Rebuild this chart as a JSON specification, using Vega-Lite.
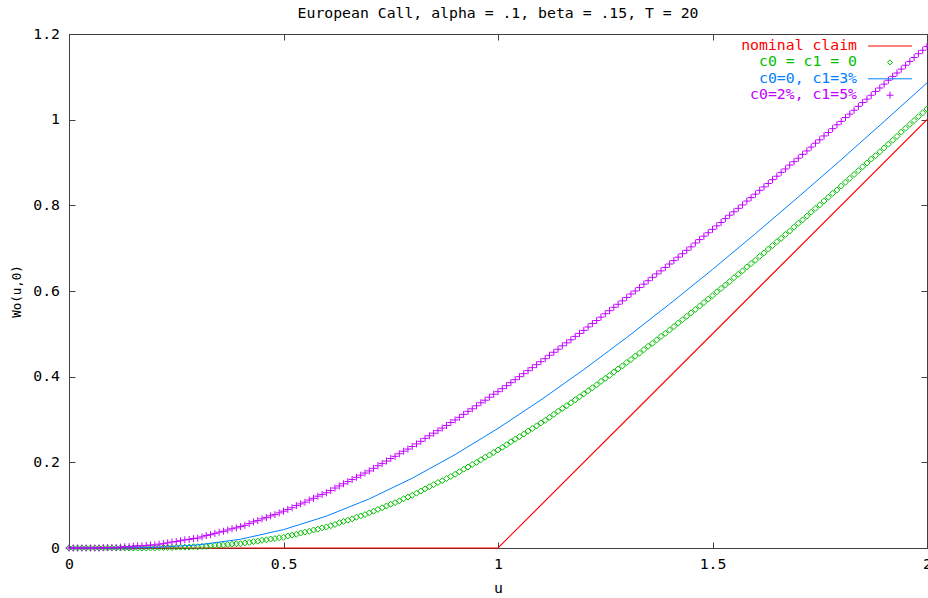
{
  "$schema": "https://vega.github.io/schema/vega-lite/v6.json",
  "width": 858,
  "height": 514,
  "autosize": {"type": "none"},
  "padding": {"left": 69, "top": 34, "right": 1, "bottom": 50},
  "background": "#ffffff",
  "title": {"text": "European Call, alpha = .1, beta = .15, T = 20", "font": "DejaVu Sans Mono", "fontSize": 14.8, "fontWeight": "normal", "color": "#000000", "anchor": "middle", "frame": "group", "baseline": "alphabetic", "offset": -6.5},
  "config": {
    "font": "DejaVu Sans Mono",
    "view": {"stroke": null},
    "axis": {"grid": false, "domainColor": "#404040", "tickColor": "#404040", "labelColor": "#000000", "titleColor": "#000000", "labelFont": "DejaVu Sans Mono", "titleFont": "DejaVu Sans Mono", "labelFontSize": 14.8, "titleFontSize": 14.8, "titleFontWeight": "normal", "labelFlush": false, "labelOverlap": false, "labelBound": false, "tickSize": -6}
  },
  "datasets": {
    "red": [{"u": 0, "v": 0}, {"u": 1, "v": 0}, {"u": 2, "v": 1}],
    "blue": [{"u":0,"v":0},{"u":0.1,"v":0},{"u":0.2,"v":0.0013},{"u":0.3,"v":0.0071},{"u":0.4,"v":0.0205},{"u":0.5,"v":0.0429},{"u":0.6,"v":0.0744},{"u":0.7,"v":0.1147},{"u":0.8,"v":0.1629},{"u":0.9,"v":0.2181},{"u":1,"v":0.2792},{"u":1.1,"v":0.3457},{"u":1.2,"v":0.4166},{"u":1.3,"v":0.4914},{"u":1.4,"v":0.5695},{"u":1.5,"v":0.6503},{"u":1.6,"v":0.7339},{"u":1.7,"v":0.8194},{"u":1.8,"v":0.9066},{"u":1.9,"v":0.9957},{"u":2,"v":1.0858}],
    "green": [{"u":0,"v":0},{"u":0.01,"v":0},{"u":0.02,"v":0},{"u":0.03,"v":0},{"u":0.04,"v":0},{"u":0.05,"v":0},{"u":0.06,"v":0},{"u":0.07,"v":0},{"u":0.08,"v":0},{"u":0.09,"v":0},{"u":0.1,"v":0},{"u":0.11,"v":0},{"u":0.12,"v":0},{"u":0.13,"v":0},{"u":0.14,"v":0},{"u":0.15,"v":0},{"u":0.16,"v":0},{"u":0.17,"v":0},{"u":0.18,"v":0},{"u":0.19,"v":0},{"u":0.2,"v":0},{"u":0.21,"v":0.001},{"u":0.22,"v":0.001},{"u":0.23,"v":0.001},{"u":0.24,"v":0.001},{"u":0.25,"v":0.002},{"u":0.26,"v":0.002},{"u":0.27,"v":0.002},{"u":0.28,"v":0.002},{"u":0.29,"v":0.003},{"u":0.3,"v":0.003},{"u":0.31,"v":0.004},{"u":0.32,"v":0.004},{"u":0.33,"v":0.005},{"u":0.34,"v":0.006},{"u":0.35,"v":0.007},{"u":0.36,"v":0.007},{"u":0.37,"v":0.008},{"u":0.38,"v":0.009},{"u":0.39,"v":0.01},{"u":0.4,"v":0.01},{"u":0.41,"v":0.012},{"u":0.42,"v":0.013},{"u":0.43,"v":0.015},{"u":0.44,"v":0.016},{"u":0.45,"v":0.018},{"u":0.46,"v":0.019},{"u":0.47,"v":0.021},{"u":0.48,"v":0.022},{"u":0.49,"v":0.024},{"u":0.5,"v":0.025},{"u":0.51,"v":0.028},{"u":0.52,"v":0.03},{"u":0.53,"v":0.032},{"u":0.54,"v":0.035},{"u":0.55,"v":0.037},{"u":0.56,"v":0.039},{"u":0.57,"v":0.042},{"u":0.58,"v":0.044},{"u":0.59,"v":0.047},{"u":0.6,"v":0.049},{"u":0.61,"v":0.052},{"u":0.62,"v":0.055},{"u":0.63,"v":0.059},{"u":0.64,"v":0.062},{"u":0.65,"v":0.065},{"u":0.66,"v":0.068},{"u":0.67,"v":0.072},{"u":0.68,"v":0.075},{"u":0.69,"v":0.078},{"u":0.7,"v":0.082},{"u":0.71,"v":0.086},{"u":0.72,"v":0.09},{"u":0.73,"v":0.094},{"u":0.74,"v":0.098},{"u":0.75,"v":0.102},{"u":0.76,"v":0.106},{"u":0.77,"v":0.11},{"u":0.78,"v":0.115},{"u":0.79,"v":0.119},{"u":0.8,"v":0.123},{"u":0.81,"v":0.128},{"u":0.82,"v":0.133},{"u":0.83,"v":0.138},{"u":0.84,"v":0.143},{"u":0.85,"v":0.148},{"u":0.86,"v":0.153},{"u":0.87,"v":0.157},{"u":0.88,"v":0.162},{"u":0.89,"v":0.167},{"u":0.9,"v":0.172},{"u":0.91,"v":0.178},{"u":0.92,"v":0.184},{"u":0.93,"v":0.189},{"u":0.94,"v":0.195},{"u":0.95,"v":0.2},{"u":0.96,"v":0.206},{"u":0.97,"v":0.212},{"u":0.98,"v":0.217},{"u":0.99,"v":0.223},{"u":1,"v":0.229},{"u":1.01,"v":0.235},{"u":1.02,"v":0.241},{"u":1.03,"v":0.248},{"u":1.04,"v":0.254},{"u":1.05,"v":0.26},{"u":1.06,"v":0.266},{"u":1.07,"v":0.273},{"u":1.08,"v":0.279},{"u":1.09,"v":0.285},{"u":1.1,"v":0.292},{"u":1.11,"v":0.298},{"u":1.12,"v":0.305},{"u":1.13,"v":0.312},{"u":1.14,"v":0.319},{"u":1.15,"v":0.326},{"u":1.16,"v":0.332},{"u":1.17,"v":0.339},{"u":1.18,"v":0.346},{"u":1.19,"v":0.353},{"u":1.2,"v":0.36},{"u":1.21,"v":0.367},{"u":1.22,"v":0.374},{"u":1.23,"v":0.381},{"u":1.24,"v":0.389},{"u":1.25,"v":0.396},{"u":1.26,"v":0.403},{"u":1.27,"v":0.411},{"u":1.28,"v":0.418},{"u":1.29,"v":0.425},{"u":1.3,"v":0.433},{"u":1.31,"v":0.44},{"u":1.32,"v":0.448},{"u":1.33,"v":0.455},{"u":1.34,"v":0.463},{"u":1.35,"v":0.471},{"u":1.36,"v":0.478},{"u":1.37,"v":0.486},{"u":1.38,"v":0.494},{"u":1.39,"v":0.501},{"u":1.4,"v":0.509},{"u":1.41,"v":0.517},{"u":1.42,"v":0.525},{"u":1.43,"v":0.533},{"u":1.44,"v":0.541},{"u":1.45,"v":0.549},{"u":1.46,"v":0.557},{"u":1.47,"v":0.565},{"u":1.48,"v":0.573},{"u":1.49,"v":0.581},{"u":1.5,"v":0.589},{"u":1.51,"v":0.598},{"u":1.52,"v":0.606},{"u":1.53,"v":0.614},{"u":1.54,"v":0.622},{"u":1.55,"v":0.631},{"u":1.56,"v":0.639},{"u":1.57,"v":0.647},{"u":1.58,"v":0.656},{"u":1.59,"v":0.664},{"u":1.6,"v":0.672},{"u":1.61,"v":0.681},{"u":1.62,"v":0.689},{"u":1.63,"v":0.698},{"u":1.64,"v":0.706},{"u":1.65,"v":0.715},{"u":1.66,"v":0.723},{"u":1.67,"v":0.732},{"u":1.68,"v":0.74},{"u":1.69,"v":0.749},{"u":1.7,"v":0.758},{"u":1.71,"v":0.766},{"u":1.72,"v":0.775},{"u":1.73,"v":0.784},{"u":1.74,"v":0.793},{"u":1.75,"v":0.801},{"u":1.76,"v":0.81},{"u":1.77,"v":0.819},{"u":1.78,"v":0.828},{"u":1.79,"v":0.836},{"u":1.8,"v":0.845},{"u":1.81,"v":0.854},{"u":1.82,"v":0.863},{"u":1.83,"v":0.872},{"u":1.84,"v":0.881},{"u":1.85,"v":0.89},{"u":1.86,"v":0.899},{"u":1.87,"v":0.908},{"u":1.88,"v":0.916},{"u":1.89,"v":0.925},{"u":1.9,"v":0.934},{"u":1.91,"v":0.943},{"u":1.92,"v":0.952},{"u":1.93,"v":0.961},{"u":1.94,"v":0.971},{"u":1.95,"v":0.98},{"u":1.96,"v":0.989},{"u":1.97,"v":0.998},{"u":1.98,"v":1.007},{"u":1.99,"v":1.016},{"u":2,"v":1.025}],
    "purple": [{"u":0,"v":0},{"u":0.01,"v":0},{"u":0.02,"v":0},{"u":0.03,"v":0},{"u":0.04,"v":0},{"u":0.05,"v":0},{"u":0.06,"v":0},{"u":0.07,"v":0},{"u":0.08,"v":0.001},{"u":0.09,"v":0.001},{"u":0.1,"v":0.001},{"u":0.11,"v":0.001},{"u":0.12,"v":0.002},{"u":0.13,"v":0.003},{"u":0.14,"v":0.003},{"u":0.15,"v":0.004},{"u":0.16,"v":0.005},{"u":0.17,"v":0.005},{"u":0.18,"v":0.006},{"u":0.19,"v":0.007},{"u":0.2,"v":0.007},{"u":0.21,"v":0.009},{"u":0.22,"v":0.01},{"u":0.23,"v":0.012},{"u":0.24,"v":0.014},{"u":0.25,"v":0.015},{"u":0.26,"v":0.017},{"u":0.27,"v":0.019},{"u":0.28,"v":0.02},{"u":0.29,"v":0.022},{"u":0.3,"v":0.023},{"u":0.31,"v":0.026},{"u":0.32,"v":0.029},{"u":0.33,"v":0.031},{"u":0.34,"v":0.034},{"u":0.35,"v":0.037},{"u":0.36,"v":0.039},{"u":0.37,"v":0.042},{"u":0.38,"v":0.045},{"u":0.39,"v":0.047},{"u":0.4,"v":0.05},{"u":0.41,"v":0.053},{"u":0.42,"v":0.057},{"u":0.43,"v":0.061},{"u":0.44,"v":0.064},{"u":0.45,"v":0.068},{"u":0.46,"v":0.071},{"u":0.47,"v":0.075},{"u":0.48,"v":0.078},{"u":0.49,"v":0.082},{"u":0.5,"v":0.086},{"u":0.51,"v":0.09},{"u":0.52,"v":0.094},{"u":0.53,"v":0.099},{"u":0.54,"v":0.103},{"u":0.55,"v":0.107},{"u":0.56,"v":0.112},{"u":0.57,"v":0.116},{"u":0.58,"v":0.121},{"u":0.59,"v":0.125},{"u":0.6,"v":0.129},{"u":0.61,"v":0.134},{"u":0.62,"v":0.14},{"u":0.63,"v":0.145},{"u":0.64,"v":0.15},{"u":0.65,"v":0.155},{"u":0.66,"v":0.16},{"u":0.67,"v":0.165},{"u":0.68,"v":0.17},{"u":0.69,"v":0.175},{"u":0.7,"v":0.18},{"u":0.71,"v":0.186},{"u":0.72,"v":0.192},{"u":0.73,"v":0.197},{"u":0.74,"v":0.203},{"u":0.75,"v":0.209},{"u":0.76,"v":0.214},{"u":0.77,"v":0.22},{"u":0.78,"v":0.226},{"u":0.79,"v":0.231},{"u":0.8,"v":0.237},{"u":0.81,"v":0.243},{"u":0.82,"v":0.249},{"u":0.83,"v":0.256},{"u":0.84,"v":0.262},{"u":0.85,"v":0.268},{"u":0.86,"v":0.274},{"u":0.87,"v":0.28},{"u":0.88,"v":0.286},{"u":0.89,"v":0.293},{"u":0.9,"v":0.299},{"u":0.91,"v":0.305},{"u":0.92,"v":0.312},{"u":0.93,"v":0.319},{"u":0.94,"v":0.325},{"u":0.95,"v":0.332},{"u":0.96,"v":0.339},{"u":0.97,"v":0.345},{"u":0.98,"v":0.352},{"u":0.99,"v":0.359},{"u":1,"v":0.365},{"u":1.01,"v":0.372},{"u":1.02,"v":0.379},{"u":1.03,"v":0.386},{"u":1.04,"v":0.393},{"u":1.05,"v":0.4},{"u":1.06,"v":0.407},{"u":1.07,"v":0.414},{"u":1.08,"v":0.421},{"u":1.09,"v":0.428},{"u":1.1,"v":0.435},{"u":1.11,"v":0.442},{"u":1.12,"v":0.45},{"u":1.13,"v":0.457},{"u":1.14,"v":0.464},{"u":1.15,"v":0.472},{"u":1.16,"v":0.479},{"u":1.17,"v":0.486},{"u":1.18,"v":0.494},{"u":1.19,"v":0.501},{"u":1.2,"v":0.508},{"u":1.21,"v":0.516},{"u":1.22,"v":0.524},{"u":1.23,"v":0.531},{"u":1.24,"v":0.539},{"u":1.25,"v":0.547},{"u":1.26,"v":0.554},{"u":1.27,"v":0.562},{"u":1.28,"v":0.569},{"u":1.29,"v":0.577},{"u":1.3,"v":0.585},{"u":1.31,"v":0.593},{"u":1.32,"v":0.6},{"u":1.33,"v":0.608},{"u":1.34,"v":0.616},{"u":1.35,"v":0.624},{"u":1.36,"v":0.632},{"u":1.37,"v":0.64},{"u":1.38,"v":0.647},{"u":1.39,"v":0.655},{"u":1.4,"v":0.663},{"u":1.41,"v":0.671},{"u":1.42,"v":0.679},{"u":1.43,"v":0.687},{"u":1.44,"v":0.695},{"u":1.45,"v":0.703},{"u":1.46,"v":0.712},{"u":1.47,"v":0.72},{"u":1.48,"v":0.728},{"u":1.49,"v":0.736},{"u":1.5,"v":0.744},{"u":1.51,"v":0.752},{"u":1.52,"v":0.76},{"u":1.53,"v":0.769},{"u":1.54,"v":0.777},{"u":1.55,"v":0.785},{"u":1.56,"v":0.793},{"u":1.57,"v":0.801},{"u":1.58,"v":0.81},{"u":1.59,"v":0.818},{"u":1.6,"v":0.826},{"u":1.61,"v":0.835},{"u":1.62,"v":0.843},{"u":1.63,"v":0.851},{"u":1.64,"v":0.86},{"u":1.65,"v":0.868},{"u":1.66,"v":0.877},{"u":1.67,"v":0.885},{"u":1.68,"v":0.894},{"u":1.69,"v":0.902},{"u":1.7,"v":0.91},{"u":1.71,"v":0.919},{"u":1.72,"v":0.927},{"u":1.73,"v":0.936},{"u":1.74,"v":0.945},{"u":1.75,"v":0.953},{"u":1.76,"v":0.962},{"u":1.77,"v":0.97},{"u":1.78,"v":0.979},{"u":1.79,"v":0.988},{"u":1.8,"v":0.996},{"u":1.81,"v":1.005},{"u":1.82,"v":1.013},{"u":1.83,"v":1.022},{"u":1.84,"v":1.031},{"u":1.85,"v":1.04},{"u":1.86,"v":1.048},{"u":1.87,"v":1.057},{"u":1.88,"v":1.066},{"u":1.89,"v":1.074},{"u":1.9,"v":1.083},{"u":1.91,"v":1.092},{"u":1.92,"v":1.101},{"u":1.93,"v":1.109},{"u":1.94,"v":1.118},{"u":1.95,"v":1.127},{"u":1.96,"v":1.136},{"u":1.97,"v":1.145},{"u":1.98,"v":1.154},{"u":1.99,"v":1.162},{"u":2,"v":1.171}]
  },
  "resolve": {"axis": {"x": "independent", "y": "independent"}},
  "layer": [
    {
      "data": {"name": "red"},
      "mark": {"type": "line", "strokeWidth": 1.2},
      "encoding": {
        "x": {"field": "u", "type": "quantitative", "scale": {"domain": [0, 2], "nice": false, "zero": false},
              "axis": {"orient": "bottom", "values": [0, 0.5, 1, 1.5, 2], "format": "~g", "labelPadding": 14, "title": "u", "titlePadding": 10}},
        "y": {"field": "v", "type": "quantitative", "scale": {"domain": [0, 1.2], "nice": false, "zero": false},
              "axis": {"orient": "left", "values": [0, 0.2, 0.4, 0.6, 0.8, 1, 1.2], "format": "~g", "labelPadding": 15.5, "title": "Wo(u,0)", "titleFontSize": 12.5, "titlePadding": 9}},
        "color": {"datum": "nominal claim", "type": "nominal",
                  "scale": {"domain": ["nominal claim", "c0 = c1 = 0", "c0=0, c1=3%", "c0=2%, c1=5%"], "range": ["#ff0000", "#00c000", "#0080ff", "#c000ff"]},
                  "legend": {"orient": "none", "legendX": 813.5, "legendY": 4.5, "title": null, "direction": "vertical", "padding": 0,
                             "symbolSize": 196, "symbolStrokeWidth": 1, "symbolType": "stroke", "symbolOffset": 0,
                             "labelAlign": "right", "labelOffset": -40.5, "labelFont": "DejaVu Sans Mono", "labelFontSize": 14.8, "labelLimit": 0, "rowPadding": 0.4,
                             "encode": {
                               "symbols": {"update": {
                                 "shape": {"signal": "datum.value === 'c0 = c1 = 0' ? 'M-0.36,0L0,-0.36L0.36,0L0,0.36Z' : (datum.value === 'c0=2%, c1=5%' ? 'M-0.5,0H0.5M0,-0.5V0.5' : 'M-3.14,0H3.14')"},
                                 "stroke": {"scale": "color", "field": "value"},
                                 "fill": {"value": "transparent"},
                                 "strokeWidth": {"value": 1},
                                 "opacity": {"value": 1}
                               }},
                               "labels": {"update": {"fill": {"scale": "color", "field": "value"}}}
                             }}}
      }
    },
    {
      "data": {"name": "green"},
      "mark": {"type": "point", "shape": "diamond", "filled": false, "size": 36, "strokeWidth": 1, "opacity": 1},
      "encoding": {
        "x": {"field": "u", "type": "quantitative", "axis": {"orient": "top", "values": [0, 0.5, 1, 1.5, 2], "labels": false, "title": null, "minExtent": 0, "maxExtent": 0}},
        "y": {"field": "v", "type": "quantitative", "axis": {"orient": "right", "values": [0, 0.2, 0.4, 0.6, 0.8, 1, 1.2], "labels": false, "title": null, "minExtent": 0, "maxExtent": 0}},
        "color": {"datum": "c0 = c1 = 0", "type": "nominal"}
      }
    },
    {
      "data": {"name": "blue"},
      "mark": {"type": "line", "strokeWidth": 1},
      "encoding": {
        "x": {"field": "u", "type": "quantitative", "axis": null},
        "y": {"field": "v", "type": "quantitative", "axis": null},
        "color": {"datum": "c0=0, c1=3%", "type": "nominal"}
      }
    },
    {
      "data": {"name": "purple"},
      "mark": {"type": "point", "shape": "M-1,0H1M0,-1V1", "filled": false, "size": 49, "strokeWidth": 1, "opacity": 1},
      "encoding": {
        "x": {"field": "u", "type": "quantitative", "axis": null},
        "y": {"field": "v", "type": "quantitative", "axis": null},
        "color": {"datum": "c0=2%, c1=5%", "type": "nominal"}
      }
    }
  ]
}
